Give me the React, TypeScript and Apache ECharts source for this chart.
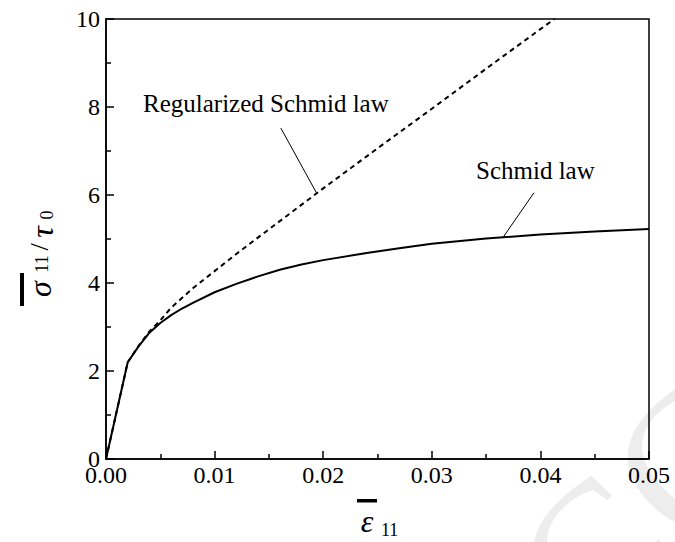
import React, { useEffect, useRef } from "react";
import * as echarts from "echarts";

// Schmid law (solid curve): strain vs normalised stress
const schmidStrain = [0, 0.002, 0.003, 0.004, 0.005, 0.006, 0.007, 0.008, 0.01, 0.012, 0.014, 0.016, 0.018, 0.02, 0.024, 0.027, 0.03, 0.035, 0.04, 0.045, 0.05];
const schmidStress = [0, 2.2, 2.56, 2.87, 3.09, 3.27, 3.42, 3.55, 3.79, 3.98, 4.15, 4.3, 4.42, 4.52, 4.68, 4.79, 4.89, 5.01, 5.1, 5.17, 5.23];

// Regularized Schmid law (dashed curve)
const regStrain = [0, 0.002, 0.003, 0.004, 0.005, 0.006, 0.008, 0.01, 0.012, 0.015, 0.02, 0.025, 0.03, 0.035, 0.04, 0.0413];
const regStress = [0, 2.2, 2.57, 2.9, 3.15, 3.44, 3.88, 4.27, 4.66, 5.22, 6.15, 7.06, 7.96, 8.87, 9.77, 10.0];

// Leader lines from the annotations to their curves
const regLeaderStrain = [0.0161, 0.0194];
const regLeaderStress = [7.52, 6.04];
const schmidLeaderStrain = [0.0394, 0.0366];
const schmidLeaderStress = [6.05, 5.05];

const xTicks = [0, 0.01, 0.02, 0.03, 0.04, 0.05];
const yTicks = [0, 2, 4, 6, 8, 10];

const SERIF = "Liberation Serif";

const pairs = (xs: number[], ys: number[]) => xs.map((x, i) => [x, ys[i]]);

export default function App() {
  const ref = useRef<HTMLDivElement>(null);

  useEffect(() => {
    document.body.style.margin = "0";
    if (!ref.current) return;
    const chart = echarts.init(ref.current, null, { renderer: "svg" });

    const axisCommon = {
      type: "value" as const,
      axisLine: { show: true, lineStyle: { color: "#000", width: 1.5 } },
      axisTick: { show: true, inside: true, length: 8, lineStyle: { color: "#000", width: 1.5 } },
      minorTick: { show: true, splitNumber: 2, length: 5, lineStyle: { color: "#000", width: 1.5 } },
      splitLine: { show: false },
      axisLabel: { color: "#000", fontFamily: SERIF, fontSize: 24 },
    };

    const txt = (
      x: number,
      y: number,
      text: string,
      size: number,
      opts: { italic?: boolean; align?: string; rotate?: boolean } = {}
    ) => ({
      type: "text",
      x,
      y,
      rotation: opts.rotate ? Math.PI / 2 : 0,
      style: {
        text,
        fill: "#000",
        fontFamily: SERIF,
        fontSize: size,
        fontStyle: opts.italic ? "italic" : "normal",
        align: opts.align || "left",
        verticalAlign: "middle",
      },
    });

    chart.setOption({
      animation: false,
      backgroundColor: "#fff",
      grid: {
        left: 106,
        right: 26,
        top: 19,
        bottom: 83,
        show: true,
        borderColor: "#000",
        borderWidth: 1.5,
        backgroundColor: "transparent",
      },
      xAxis: {
        ...axisCommon,
        min: xTicks[0],
        max: xTicks[xTicks.length - 1],
        interval: 0.01,
        axisLabel: { ...axisCommon.axisLabel, margin: 4, formatter: (v: number) => v.toFixed(2) },
      },
      yAxis: {
        ...axisCommon,
        min: yTicks[0],
        max: yTicks[yTicks.length - 1],
        interval: 2,
        axisLabel: { ...axisCommon.axisLabel, margin: 6 },
      },
      series: [
        {
          type: "line",
          data: pairs(schmidStrain, schmidStress),
          symbol: "none",
          lineStyle: { color: "#000", width: 2 },
          z: 3,
        },
        {
          type: "line",
          data: pairs(regStrain, regStress),
          symbol: "none",
          lineStyle: { color: "#000", width: 2, type: [5, 4] },
          z: 2,
        },
        {
          type: "line",
          data: pairs(regLeaderStrain, regLeaderStress),
          symbol: "none",
          lineStyle: { color: "#000", width: 1 },
        },
        {
          type: "line",
          data: pairs(schmidLeaderStrain, schmidLeaderStress),
          symbol: "none",
          lineStyle: { color: "#000", width: 1 },
        },
      ],
      graphic: [
        // faint diagonal manuscript stamp
        {
          type: "text",
          x: 447,
          y: 705,
          rotation: Math.PI / 4,
          z: -10,
          silent: true,
          style: {
            text: "ACCEPTED MANUSCRIPT",
            fill: "#ededed",
            fontFamily: SERIF,
            fontSize: 200,
            verticalAlign: "middle",
            align: "left",
          },
        },
        txt(143, 103, "Regularized Schmid law", 25),
        txt(476, 170, "Schmid law", 25),
        // x-axis title: strain with overbar and subscript
        { type: "rect", shape: { x: 357, y: 499, width: 20, height: 3.5 }, style: { fill: "#000" } },
        txt(367, 521, "ε", 32, { italic: true, align: "center" }),
        txt(381, 530, "11", 18),
        // y-axis title: stress with overbar over tau_0
        { type: "rect", shape: { x: 20, y: 273, width: 4, height: 33 }, style: { fill: "#000" } },
        txt(40, 289, "σ", 32, { italic: true, align: "center", rotate: true }),
        txt(42, 264, "11", 18, { align: "center", rotate: true }),
        txt(39, 247, "/", 26, { align: "center", rotate: true }),
        txt(42, 232, "τ", 32, { italic: true, align: "center", rotate: true }),
        txt(47, 215, "0", 18, { align: "center", rotate: true }),
      ],
    });

    return () => chart.dispose();
  }, []);

  return <div ref={ref} style={{ width: 675, height: 542 }} />;
}
